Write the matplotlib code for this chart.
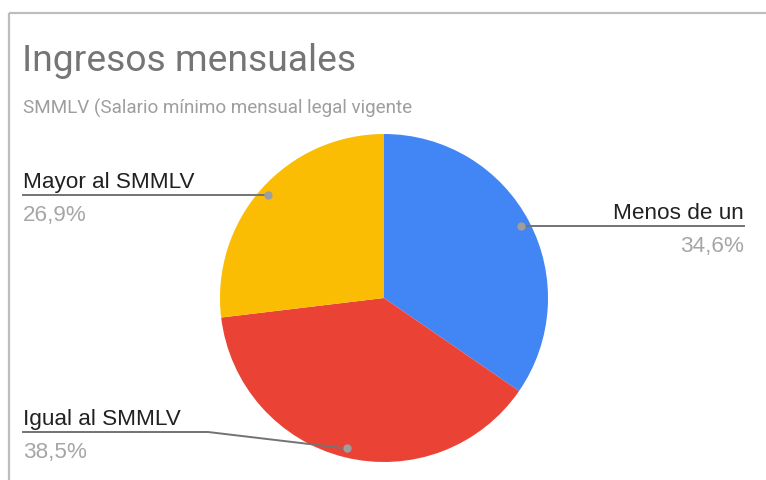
import numpy as np
import matplotlib.pyplot as plt

plt.rcParams['font.family'] = ['Roboto', 'DejaVu Sans']

# data
labels = ['Menos de un', 'Igual al SMMLV', 'Mayor al SMMLV']
values = [34.6, 38.5, 26.9]
pct_labels = ['34,6%', '38,5%', '26,9%']
colors = ['#4285F4', '#EA4335', '#FBBC04']

W, H = 766, 481
fig = plt.figure(figsize=(W / 100, H / 100), dpi=100)
ax = fig.add_axes([0, 0, 1, 1])


def py(y):  # pixel row -> data y
    return H - y


# pie
cx, cy, r = 384, py(299), 164
wedges, _ = ax.pie(values, colors=colors, startangle=90, counterclock=False,
                   center=(cx, cy), radius=r, frame=True,
                   wedgeprops=dict(linewidth=0))
ax.set_xlim(0, W)
ax.set_ylim(0, H)
ax.set_aspect('equal')
ax.axis('off')

# card border (top and left, rest cut off)
ax.plot([9, W], [py(14), py(14)], color='#bdbdbd', lw=1.6, solid_capstyle='butt')
ax.plot([9, 9], [py(14), 0], color='#bdbdbd', lw=1.6, solid_capstyle='butt')

# title
ax.text(22, py(61), 'Ingresos mensuales', fontsize=26.8, color='#757575', va='center', ha='left')
ax.text(23, py(108), 'SMMLV (Salario mínimo mensual legal vigente', fontsize=13.6,
        color='#9e9e9e', va='center', ha='left')

# leader-line anchor points on mid-angle of each slice
dots = []
for w in wedges:
    mid = np.deg2rad((w.theta1 + w.theta2) / 2)
    dots.append((cx + 0.945 * r * np.cos(mid), cy + 0.945 * r * np.sin(mid)))

line_c = '#737373'
dot_c = '#9e9e9e'
lab_c = '#212121'
pct_c = '#a6a6a6'
lab_font = ['Liberation Sans', 'DejaVu Sans']
fs = 16.2

# Menos de un (right side)
dx, dy = dots[0]
ax.plot([dx, 744], [dy, dy], color=line_c, lw=1.4, zorder=3)
ax.text(744, dy + 8, labels[0], fontsize=fs, color=lab_c, ha='right', va='baseline', family=lab_font)
ax.text(744, dy - 9, pct_labels[0], fontsize=fs, color=pct_c, ha='right', va='top', family=lab_font)

# Igual al SMMLV (bottom left, bent line)
dx, dy = dots[1]
ly = py(433)
ax.plot([23, 208, dx], [ly, ly, dy], color=line_c, lw=1.4, zorder=3)
ax.text(23, ly + 8, labels[1], fontsize=fs, color=lab_c, ha='left', va='baseline', family=lab_font)
ax.text(23, ly - 9, pct_labels[1], fontsize=fs, color=pct_c, ha='left', va='top', family=lab_font)

# Mayor al SMMLV (top left)
dx, dy = dots[2]
ax.plot([23, dx], [dy, dy], color=line_c, lw=1.4, zorder=3)
ax.text(23, dy + 8, labels[2], fontsize=fs, color=lab_c, ha='left', va='baseline', family=lab_font)
ax.text(23, dy - 9, pct_labels[2], fontsize=fs, color=pct_c, ha='left', va='top', family=lab_font)

for dx, dy in dots:
    ax.plot(dx, dy, 'o', color=dot_c, ms=6, mec='none', zorder=4)

fig.savefig('out.png', dpi=100)
